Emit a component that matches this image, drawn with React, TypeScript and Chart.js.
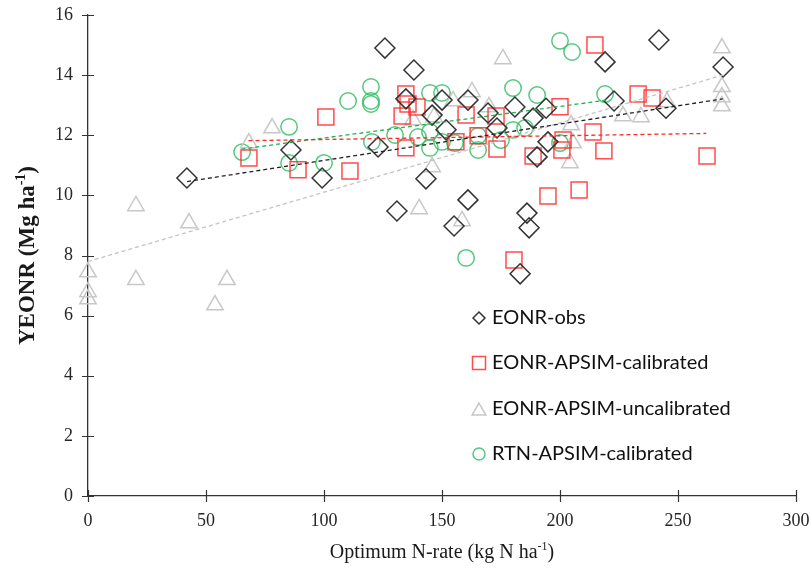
import React, { useEffect, useRef } from 'react';
import { Chart, registerables } from 'chart.js';

Chart.register(...registerables);

// ---- data ----
const xTicks = [0, 50, 100, 150, 200, 250, 300];
const yTicks = [0, 2, 4, 6, 8, 10, 12, 14, 16];

const seriesNames = ['EONR-obs', 'EONR-APSIM-calibrated', 'EONR-APSIM-uncalibrated', 'RTN-APSIM-calibrated'];

const obsX = [41.9, 86.0, 99.2, 122.9, 125.8, 134.7, 138.1, 130.9, 143.2, 145.8, 150.0, 151.7, 155.1, 161.0, 161.0, 169.5, 173.3, 180.9, 183.1, 186.0, 186.9, 188.6, 190.3, 194.1, 194.9, 219.1, 222.9, 241.9, 244.9, 269.1];
const obsY = [10.58, 11.51, 10.58, 11.61, 14.9, 13.21, 14.17, 9.48, 10.55, 12.67, 13.17, 12.18, 8.98, 13.17, 9.85, 12.74, 12.24, 12.94, 7.39, 9.41, 8.92, 12.57, 11.28, 12.9, 11.78, 14.44, 13.14, 15.17, 12.9, 14.27];

const calX = [68.2, 89.0, 100.8, 111.0, 133.1, 134.7, 135.6, 139.4, 134.7, 155.9, 160.2, 165.3, 172.9, 173.3, 180.5, 188.6, 194.9, 200.0, 201.3, 200.8, 208.1, 214.0, 214.8, 218.6, 233.1, 239.0, 262.3];
const calY = [11.24, 10.85, 12.61, 10.81, 12.64, 13.37, 13.04, 12.94, 11.58, 11.78, 12.67, 11.98, 12.64, 11.54, 7.85, 11.31, 9.98, 12.95, 11.84, 11.51, 10.18, 12.11, 15.0, 11.48, 13.37, 13.24, 11.31];

const uncalX = [0, 0, 0, 20.3, 20.3, 42.8, 53.8, 58.9, 68.2, 78.0, 137.7, 140.3, 145.8, 146.6, 154.7, 158.5, 162.7, 169.9, 175.8, 204.7, 205.5, 204.2, 226.7, 234.3, 245.3, 268.6, 268.6, 268.6, 268.6];
const uncalY = [7.45, 6.79, 6.55, 9.65, 7.19, 9.08, 6.35, 7.19, 11.74, 12.24, 12.51, 9.55, 10.94, 12.61, 13.14, 9.15, 13.44, 12.94, 14.54, 12.34, 11.74, 11.08, 12.64, 12.61, 13.11, 14.9, 13.61, 13.27, 12.97];

const rtnX = [65.3, 85.2, 85.2, 100.0, 110.2, 119.9, 119.9, 119.9, 120.3, 130.1, 139.8, 144.9, 144.9, 144.9, 150.0, 150.0, 155.5, 160.2, 165.3, 165.3, 175.0, 180.1, 180.1, 185.2, 190.3, 200.0, 200.0, 205.1, 219.1];
const rtnY = [11.44, 12.28, 11.08, 11.08, 13.14, 13.61, 13.14, 13.04, 11.78, 12.01, 11.94, 13.41, 12.11, 11.58, 13.41, 11.78, 11.74, 7.92, 11.98, 11.51, 11.84, 13.57, 12.18, 12.24, 13.34, 15.14, 11.74, 14.77, 13.37];

// trend line end points
const trendObsX = [42, 269];
const trendObsY = [10.46, 13.21];
const trendCalX = [68, 262];
const trendCalY = [11.82, 12.06];
const trendUncalX = [0, 269];
const trendUncalY = [7.8, 14.0];
const trendRtnX = [65, 220];
const trendRtnY = [11.54, 13.17];

const colObs = '#333333';
const colCal = 'rgba(255,45,45,0.85)';
const colUncal = '#c8c8c8';
const colRtn = 'rgba(55,190,105,0.85)';

const pts = (xs: number[], ys: number[]) => xs.map((x, i) => ({ x, y: ys[i] }));

function drawSupText(ctx: CanvasRenderingContext2D, parts: [string, boolean][], cx: number, cy: number, size: number, weight: string) {
  const supSize = Math.round(size * 0.62);
  const mainFont = `${weight} ${size}px "Liberation Serif"`;
  const supFont = `${weight} ${supSize}px "Liberation Serif"`;
  let total = 0;
  for (const [t, sup] of parts) {
    ctx.font = sup ? supFont : mainFont;
    total += ctx.measureText(t).width;
  }
  let x = cx - total / 2;
  ctx.textAlign = 'left';
  ctx.textBaseline = 'alphabetic';
  const base = cy + size * 0.33;
  for (const [t, sup] of parts) {
    ctx.font = sup ? supFont : mainFont;
    ctx.fillText(t, x, sup ? base - size * 0.38 : base);
    x += ctx.measureText(t).width;
  }
}

const crossTicks = {
  id: 'crossTicks',
  afterDraw(chart: any) {
    const { ctx, scales } = chart;
    const xs = scales.x;
    const ys = scales.y;
    ctx.save();
    ctx.strokeStyle = '#333';
    ctx.lineWidth = 1.2;
    ctx.beginPath();
    xs.ticks.forEach((t: any) => {
      const px = Math.round(xs.getPixelForValue(t.value)) + 0.5;
      ctx.moveTo(px, ys.bottom - 6);
      ctx.lineTo(px, ys.bottom + 6);
    });
    ys.ticks.forEach((t: any) => {
      const py = Math.round(ys.getPixelForValue(t.value)) + 0.5;
      ctx.moveTo(xs.left - 6, py);
      ctx.lineTo(xs.left + 6, py);
    });
    ctx.stroke();
    ctx.restore();
  },
};

const titles = {
  id: 'titles',
  afterDraw(chart: any) {
    const { ctx, chartArea } = chart;
    ctx.save();
    ctx.fillStyle = '#1a1a1a';
    drawSupText(ctx, [['Optimum N-rate (kg N ha', false], ['-1', true], [')', false]], (chartArea.left + chartArea.right) / 2, 551, 20, 'normal');
    ctx.translate(26, (chartArea.top + chartArea.bottom) / 2);
    ctx.rotate(-Math.PI / 2);
    drawSupText(ctx, [['YEONR (Mg ha', false], ['-1', true], [')', false]], 0, 0, 23, 'bold');
    ctx.restore();
  },
};

function marker(ctx: CanvasRenderingContext2D, kind: string, x: number, y: number, r: number) {
  ctx.beginPath();
  if (kind === 'diamond') {
    ctx.moveTo(x - r, y); ctx.lineTo(x, y - r); ctx.lineTo(x + r, y); ctx.lineTo(x, y + r); ctx.closePath();
  } else if (kind === 'square') {
    ctx.rect(x - r, y - r, 2 * r, 2 * r);
  } else if (kind === 'triangle') {
    ctx.moveTo(x, y - r); ctx.lineTo(x + r * 0.866, y + r * 0.5); ctx.lineTo(x - r * 0.866, y + r * 0.5); ctx.closePath();
  } else {
    ctx.arc(x, y, r, 0, Math.PI * 2);
  }
  ctx.stroke();
}

const legendBox = {
  id: 'legendBox',
  afterDraw(chart: any) {
    const { ctx } = chart;
    const kinds = ['diamond', 'square', 'triangle', 'circle'];
    const cols = [colObs, colCal, colUncal, colRtn];
    const sizes = [6, 6.5, 8, 6];
    const ys = [318, 363, 409, 454];
    ctx.save();
    seriesNames.forEach((name, i) => {
      ctx.strokeStyle = cols[i];
      ctx.lineWidth = 1.5;
      marker(ctx, kinds[i], 479, ys[i] + (kinds[i] === 'triangle' ? 2 : 0), sizes[i]);
      ctx.fillStyle = '#111';
      ctx.font = '20px Lato';
      ctx.textAlign = 'left';
      ctx.textBaseline = 'middle';
      ctx.fillText(name, 492, ys[i]);
    });
    ctx.restore();
  },
};

export default function App() {
  const ref = useRef<HTMLCanvasElement | null>(null);
  useEffect(() => {
    if (!ref.current) return;
    const trend = (xs: number[], ys: number[], color: string) => ({
      type: 'line' as const,
      data: pts(xs, ys),
      borderColor: color,
      borderWidth: 1.3,
      borderDash: [4, 3],
      pointRadius: 0,
      showLine: true,
      fill: false,
      clip: false,
      order: 0,
    });
    const scatter = (label: string, xs: number[], ys: number[], style: string, color: string, r: number) => ({
      type: 'scatter' as const,
      label,
      data: pts(xs, ys),
      pointStyle: style,
      pointRadius: r,
      pointBorderColor: color,
      borderColor: color,
      pointBackgroundColor: 'rgba(0,0,0,0)',
      backgroundColor: 'rgba(0,0,0,0)',
      pointBorderWidth: 1.5,
      clip: false,
      order: 1,
    });
    const chart = new Chart(ref.current, {
      type: 'scatter',
      data: {
        datasets: [
          trend(trendObsX, trendObsY, '#222222'),
          trend(trendCalX, trendCalY, '#ff2a2a'),
          trend(trendUncalX, trendUncalY, '#c4c4c4'),
          trend(trendRtnX, trendRtnY, '#22b055'),
          scatter(seriesNames[0], obsX, obsY, 'rectRot', colObs, 10),
          scatter(seriesNames[1], calX, calY, 'rect', colCal, 11.3),
          scatter(seriesNames[2], uncalX, uncalY, 'triangle', colUncal, 9.5),
          scatter(seriesNames[3], rtnX, rtnY, 'circle', colRtn, 8.2),
        ] as any,
      },
      options: {
        animation: false,
        responsive: true,
        maintainAspectRatio: false,
        layout: { padding: 0 },
        plugins: { legend: { display: false }, tooltip: { enabled: false } },
        scales: {
          x: {
            type: 'linear',
            min: 0,
            max: 300,
            afterBuildTicks: (s: any) => { s.ticks = xTicks.map((v) => ({ value: v })); },
            afterFit: (s: any) => { s.height = 73; s.paddingLeft = 0; s.paddingRight = 16; },
            grid: { display: false, drawTicks: false },
            border: { display: true, color: '#333', width: 1.3 },
            ticks: { padding: 14, color: '#262626', font: { family: 'Liberation Serif', size: 18 } },
          },
          y: {
            type: 'linear',
            min: 0,
            max: 16,
            afterBuildTicks: (s: any) => { s.ticks = yTicks.map((v) => ({ value: v })); },
            afterFit: (s: any) => { s.width = 88; s.paddingTop = 15; s.paddingBottom = 0; },
            grid: { display: false, drawTicks: false },
            border: { display: true, color: '#333', width: 1.3 },
            ticks: { padding: 15, color: '#262626', font: { family: 'Liberation Serif', size: 18 } },
          },
        },
      },
      plugins: [crossTicks, titles, legendBox],
    });
    return () => chart.destroy();
  }, []);
  return (
    <div style={{ position: 'fixed', left: 0, top: 0, width: 812, height: 569, background: '#fff' }}>
      <canvas ref={ref} />
    </div>
  );
}
